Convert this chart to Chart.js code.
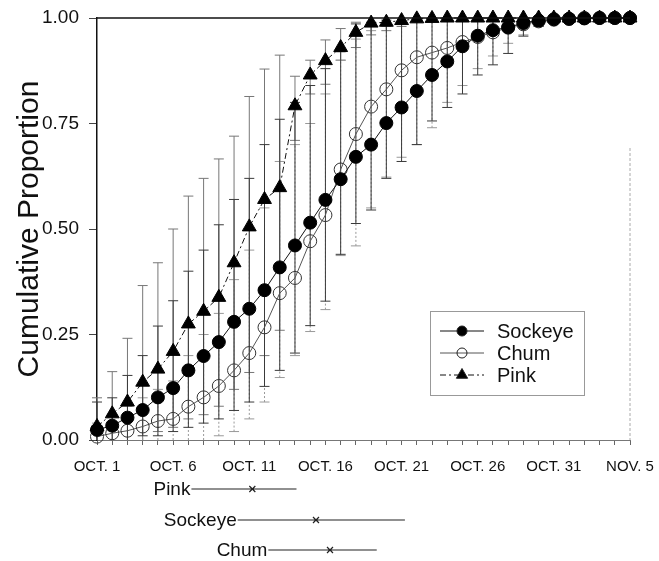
<!DOCTYPE html>
<html>
<head>
<meta charset="utf-8">
<script src="https://cdn.jsdelivr.net/npm/chart.js@4.4.1/dist/chart.umd.min.js"></script>
<style>
  html, body { margin: 0; padding: 0; background: #fff; }
  canvas { display: block; }
</style>
</head>
<body>
<canvas id="grafico" width="659" height="561"></canvas>
<script>
// Días contados desde el 1 de octubre (0 = OCT. 1, 35 = NOV. 5)
const dias = [0,1,2,3,4,5,6,7,8,9,10,11,12,13,14,15,16,17,18,19,20,21,22,23,24,25,26,27,28,29,30,31,32,33,34,35];
const etiquetasFecha = ['OCT. 1', 'OCT. 6', 'OCT. 11', 'OCT. 16', 'OCT. 21', 'OCT. 26', 'OCT. 31', 'NOV. 5'];
const marcasY = [0, 0.25, 0.5, 0.75, 1];

// Proporción acumulada media por especie
const sockeye = [0.024,0.034,0.053,0.071,0.101,0.123,0.165,0.199,0.232,0.280,0.311,0.355,0.409,0.461,0.515,0.569,0.618,0.671,0.700,0.751,0.788,0.827,0.865,0.897,0.933,0.958,0.971,0.978,0.988,0.994,0.997,0.998,0.999,1,1,1];
const chum = [0.008,0.016,0.022,0.032,0.045,0.050,0.079,0.101,0.128,0.165,0.206,0.267,0.348,0.384,0.471,0.533,0.641,0.725,0.790,0.831,0.876,0.907,0.918,0.929,0.943,0.955,0.966,0.977,0.985,0.992,0.996,0.998,1,1,1,1];
const pink = [0.032,0.062,0.090,0.137,0.168,0.210,0.275,0.305,0.338,0.420,0.505,0.570,0.598,0.792,0.865,0.899,0.930,0.966,0.988,0.990,0.994,0.998,0.999,1,1,1,1,1,1,1,1,1,1,1,1,1];

// Rangos (mínimo y máximo entre años)
const sockeyeMin = [0,0,0,0.01,0.01,0.02,0.03,0.04,0.05,0.07,0.09,0.127,0.165,0.206,0.271,0.329,0.44,0.513,0.545,0.62,0.66,0.70,0.756,0.788,0.82,0.865,0.889,0.916,0.957,0.98,0.99,0.995,1,1,1,1];
const sockeyeMax = [0.09,0.10,0.153,0.20,0.27,0.33,0.40,0.45,0.51,0.57,0.62,0.70,0.76,0.80,0.84,0.88,0.92,0.986,0.99,0.995,1,1,1,1,1,1,1,1,1,1,1,1,1,1,1,1];
const chumMin = [0,0,0,0,0,0,0,0,0.01,0.02,0.05,0.09,0.148,0.20,0.257,0.309,0.437,0.46,0.55,0.623,0.67,0.70,0.74,0.80,0.84,0.88,0.91,0.94,0.96,0.98,0.99,1,1,1,1,1];
const chumMax = [0.04,0.06,0.08,0.10,0.12,0.14,0.20,0.25,0.30,0.38,0.45,0.55,0.66,0.70,0.75,0.82,0.90,0.95,0.97,0.98,0.99,1,1,1,1,1,1,1,1,1,1,1,1,1,1,1];
const pinkMin = [0,0,0,0,0.02,0.03,0.05,0.06,0.08,0.12,0.16,0.20,0.26,0.71,0.82,0.843,0.90,0.93,0.96,0.97,0.98,0.99,1,1,1,1,1,1,1,1,1,1,1,1,1,1];
const pinkMax = [0.10,0.162,0.241,0.366,0.42,0.50,0.578,0.62,0.666,0.72,0.814,0.879,0.912,0.862,0.90,0.948,0.975,0.99,1,1,1,1,1,1,1,1,1,1,1,1,1,1,1,1,1,1];

// Periodo de paso bajo el eje: inicio, mediana y fin (en días)
const especiesPaso = ['Pink', 'Sockeye', 'Chum'];
const pasoInicio = [6.2, 9.24, 11.25];
const pasoMediana = [10.2, 14.38, 15.3];
const pasoFin = [13.1, 20.22, 18.37];

const fuente = "'Liberation Sans', Arial, sans-serif";

// Barras de error dibujadas con las escalas del gráfico
const estilosError = [
    { min: pinkMin, max: pinkMax, color: '#777', ancho: 1, dash: [] },
    { min: chumMin, max: chumMax, color: '#999', ancho: 1, dash: [2, 2] },
    { min: sockeyeMin, max: sockeyeMax, color: '#3a3a3a', ancho: 1, dash: [] }
];

const pluginErrores = {
    id: 'errores',
    beforeDatasetsDraw(chart) {
        const { ctx, scales: { x, y } } = chart;
        ctx.save();
        estilosError.forEach(s => {
            ctx.strokeStyle = s.color;
            ctx.lineWidth = s.ancho;
            ctx.setLineDash(s.dash);
            dias.forEach((d, i) => {
                if (s.max[i] - s.min[i] < 0.004) return;
                const px = x.getPixelForValue(d);
                const y1 = y.getPixelForValue(s.min[i]);
                const y2 = y.getPixelForValue(s.max[i]);
                ctx.beginPath();
                ctx.moveTo(px, y1);
                ctx.lineTo(px, y2);
                ctx.stroke();
                ctx.setLineDash([]);
                ctx.beginPath();
                if (s.min[i] > 0) { ctx.moveTo(px - 5, y1); ctx.lineTo(px + 5, y1); }
                if (s.max[i] < 1) { ctx.moveTo(px - 5, y2); ctx.lineTo(px + 5, y2); }
                ctx.stroke();
                ctx.setLineDash(s.dash);
            });
        });
        ctx.restore();
    }
};

function dibujarMarcador(ctx, tipo, relleno, cx, cy, r) {
    ctx.beginPath();
    if (tipo === 'triangle') {
        ctx.moveTo(cx, cy - r);
        ctx.lineTo(cx + r * 0.87, cy + r * 0.5);
        ctx.lineTo(cx - r * 0.87, cy + r * 0.5);
        ctx.closePath();
    } else {
        ctx.arc(cx, cy, r, 0, Math.PI * 2);
    }
    if (relleno) { ctx.fillStyle = '#000'; ctx.fill(); }
    ctx.strokeStyle = '#222';
    ctx.lineWidth = 1;
    ctx.stroke();
}

// Marco superior/derecho, leyenda y periodos de paso
const pluginExtras = {
    id: 'extras',
    afterDraw(chart) {
        const { ctx, chartArea: a, scales: { x } } = chart;
        ctx.save();

        ctx.strokeStyle = '#111';
        ctx.lineWidth = 1.5;
        ctx.beginPath();
        ctx.moveTo(a.left, a.top);
        ctx.lineTo(a.right, a.top);
        ctx.stroke();
        ctx.strokeStyle = '#aaa';
        ctx.lineWidth = 1;
        ctx.setLineDash([3, 2]);
        ctx.beginPath();
        ctx.moveTo(a.right, a.top + 130);
        ctx.lineTo(a.right, a.bottom);
        ctx.stroke();
        ctx.setLineDash([]);

        // Leyenda
        const lx = 430, ly = 311, lw = 154, lh = 84;
        ctx.fillStyle = '#fff';
        ctx.fillRect(lx, ly, lw, lh);
        ctx.strokeStyle = '#999';
        ctx.strokeRect(lx + 0.5, ly + 0.5, lw, lh);
        ctx.font = '20px ' + fuente;
        ctx.textBaseline = 'middle';
        chart.data.datasets.forEach((ds, i) => {
            const ry = ly + 20 + i * 22;
            ctx.strokeStyle = ds.borderColor;
            ctx.lineWidth = 1;
            ctx.setLineDash(ds.borderDash || []);
            ctx.beginPath();
            ctx.moveTo(lx + 10, ry);
            ctx.lineTo(lx + 54, ry);
            ctx.stroke();
            ctx.setLineDash([]);
            dibujarMarcador(ctx, ds.pointStyle, ds.pointBackgroundColor !== 'rgba(0,0,0,0)', lx + 32, ry, ds.pointStyle === 'triangle' ? 6.5 : 5);
            ctx.fillStyle = '#111';
            ctx.textAlign = 'left';
            ctx.fillText(ds.label, lx + 67, ry + 1);
        });

        // Periodos de paso bajo el eje X
        const filas = [489, 520, 550];
        ctx.font = '19px ' + fuente;
        especiesPaso.forEach((nombre, i) => {
            const x1 = x.getPixelForValue(pasoInicio[i]);
            const x2 = x.getPixelForValue(pasoFin[i]);
            const xm = x.getPixelForValue(pasoMediana[i]);
            const fy = filas[i];
            ctx.fillStyle = '#111';
            ctx.textAlign = 'right';
            ctx.fillText(nombre, x1 - 1, fy + 1);
            ctx.strokeStyle = '#222';
            ctx.lineWidth = 1.2;
            ctx.beginPath();
            ctx.moveTo(x1, fy);
            ctx.lineTo(x2, fy);
            ctx.moveTo(xm - 3, fy - 3);
            ctx.lineTo(xm + 3, fy + 3);
            ctx.moveTo(xm + 3, fy - 3);
            ctx.lineTo(xm - 3, fy + 3);
            ctx.stroke();
        });
        ctx.restore();
    }
};

const aPuntos = serie => dias.map((d, i) => ({ x: d, y: serie[i] }));

const ctx = document.getElementById('grafico').getContext('2d');
new Chart(ctx, {
    type: 'line',
    data: {
        datasets: [
            {
                label: 'Sockeye',
                data: aPuntos(sockeye),
                borderColor: '#111',
                borderWidth: 1,
                pointStyle: 'circle',
                pointRadius: 6.5,
                pointBackgroundColor: '#000',
                pointBorderColor: '#000',
                pointBorderWidth: 1
            },
            {
                label: 'Chum',
                data: aPuntos(chum),
                borderColor: '#555',
                borderWidth: 1,
                pointStyle: 'circle',
                pointRadius: 6.5,
                pointBackgroundColor: 'rgba(0,0,0,0)',
                pointBorderColor: '#333',
                pointBorderWidth: 1
            },
            {
                label: 'Pink',
                data: aPuntos(pink),
                borderColor: '#111',
                borderWidth: 1,
                borderDash: [6, 3, 2, 3],
                pointStyle: 'triangle',
                pointRadius: 8,
                pointBackgroundColor: '#000',
                pointBorderColor: '#000',
                pointBorderWidth: 1
            }
        ]
    },
    options: {
        responsive: false,
        devicePixelRatio: 1,
        animation: false,
        clip: false,
        layout: { padding: { left: 0, right: 29, top: 18, bottom: 76 } },
        plugins: {
            legend: { display: false },
            tooltip: { enabled: false }
        },
        elements: { line: { tension: 0 } },
        scales: {
            x: {
                type: 'linear',
                min: 0,
                max: 35,
                afterFit: s => { s.height = 45; s.paddingLeft = 0; s.paddingRight = 0; },
                grid: { drawOnChartArea: false, tickLength: 5, color: '#666' },
                border: { color: '#777', width: 1 },
                ticks: {
                    stepSize: 1,
                    autoSkip: false,
                    maxRotation: 0,
                    padding: 13,
                    color: '#111',
                    font: { family: fuente, size: 15 },
                    callback: v => (v % 5 === 0 ? etiquetasFecha[v / 5] : '')
                }
            },
            y: {
                min: 0,
                max: 1,
                afterFit: s => { s.width = 97; s.paddingTop = 0; s.paddingBottom = 0; },
                afterBuildTicks: s => { s.ticks = marcasY.map(v => ({ value: v })); },
                grid: { drawOnChartArea: false, tickLength: 8, color: '#444' },
                border: { color: '#111', width: 1.5 },
                ticks: {
                    padding: 10,
                    color: '#111',
                    font: { family: fuente, size: 19 },
                    callback: v => v.toFixed(2)
                },
                title: {
                    display: true,
                    text: 'Cumulative Proportion',
                    color: '#111',
                    font: { family: fuente, size: 30 },
                    padding: { top: 12, bottom: 0 }
                }
            }
        }
    },
    plugins: [pluginErrores, pluginExtras]
});
</script>
</body>
</html>
